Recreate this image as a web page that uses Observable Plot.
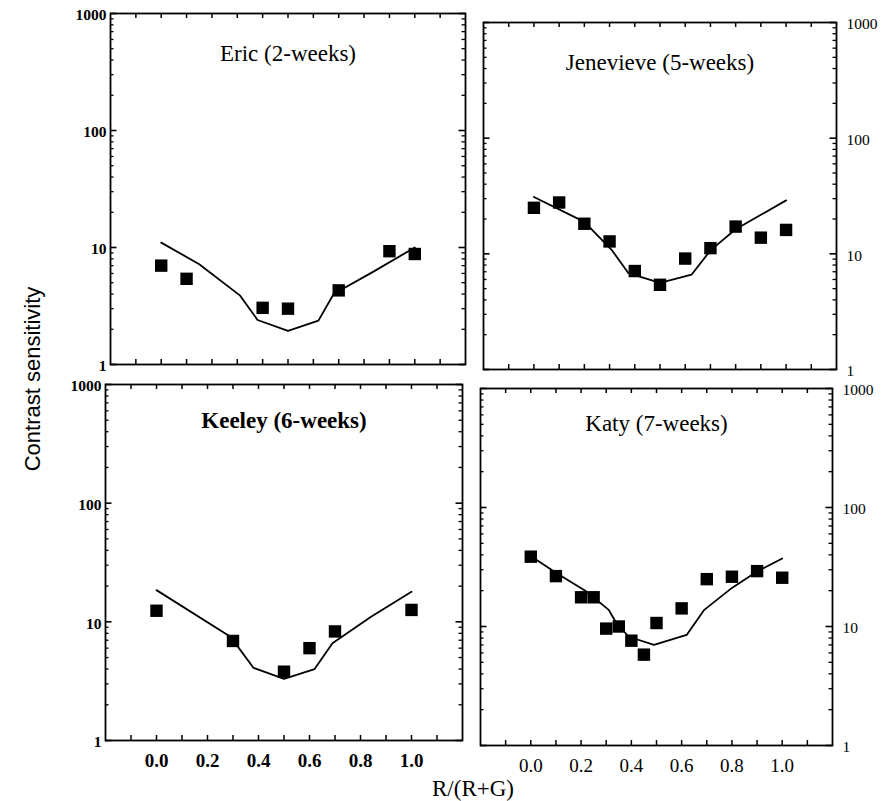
<!DOCTYPE html>
<html><head><meta charset="utf-8">
<script src="https://cdn.jsdelivr.net/npm/d3@7"></script>
<script src="https://cdn.jsdelivr.net/npm/@observablehq/plot@0.6"></script>
<style>
body{margin:0;background:#fff;}
#chart{position:relative;width:893px;height:801px;overflow:hidden;background:#fff;}
.panel{position:absolute;}
.ytitle{position:absolute;left:33px;top:379px;transform:translate(-50%,-50%) rotate(-90deg);font-family:'Liberation Sans',Arial,sans-serif;font-size:22px;white-space:nowrap;color:#000;}
.xtitle{position:absolute;left:473px;top:789px;transform:translate(-50%,-50%);font-family:'Liberation Serif','Times New Roman',serif;font-size:23px;white-space:nowrap;color:#000;}
</style></head><body>
<div id="chart">
  <div class="ytitle">Contrast sensitivity</div>
  <div class="xtitle">R/(R+G)</div>
</div>
<script>
// ---- Data ----
const panelTitles = ["Eric (2-weeks)", "Jenevieve (5-weeks)", "Keeley (6-weeks)", "Katy (7-weeks)"];

// Eric (2-weeks)
const ericX = [0.0, 0.1, 0.4, 0.5, 0.7, 0.9, 1.0];
const ericY = [7.0, 5.4, 3.05, 3.0, 4.3, 9.3, 8.8];
const ericFitX = [0.0, 0.15, 0.31, 0.38, 0.5, 0.62, 0.68, 0.83, 1.0];
const ericFitY = [11.0, 7.2, 3.9, 2.4, 1.94, 2.37, 4.0, 6.1, 10.0];

// Jenevieve (5-weeks)
const jenX = [0.0, 0.1, 0.2, 0.3, 0.4, 0.5, 0.6, 0.7, 0.8, 0.9, 1.0];
const jenY = [25, 27.8, 18.2, 12.8, 7.1, 5.4, 9.1, 11.2, 17.2, 13.8, 16.1];
const jenFitX = [0.0, 0.2, 0.31, 0.375, 0.5, 0.625, 0.7, 0.8, 1.0];
const jenFitY = [31, 18.9, 10.7, 6.8, 5.6, 6.6, 10.7, 16.3, 29];

// Keeley (6-weeks)
const keeX = [0.0, 0.3, 0.5, 0.6, 0.7, 1.0];
const keeY = [12.4, 6.9, 3.8, 6.0, 8.3, 12.6];
const keeFitX = [0.0, 0.29, 0.38, 0.5, 0.62, 0.69, 0.84, 1.0];
const keeFitY = [18.5, 7.5, 4.1, 3.3, 4.0, 6.6, 11.0, 17.9];

// Katy (7-weeks)
const katX = [0.0, 0.1, 0.2, 0.25, 0.3, 0.35, 0.4, 0.45, 0.5, 0.6, 0.7, 0.8, 0.9, 1.0];
const katY = [38.6, 26.5, 17.6, 17.6, 9.6, 10.0, 7.6, 5.8, 10.7, 14.2, 25, 26.2, 29.2, 25.7];
const katFitX = [0.01, 0.1, 0.22, 0.31, 0.34, 0.39, 0.49, 0.62, 0.69, 0.8, 0.9, 1.0];
const katFitY = [37.9, 28.3, 19.8, 13.8, 10.7, 8.2, 7.0, 8.5, 13.8, 21.1, 29, 37.3];

// Axis domains, tick values / labels
const xDomain = [-0.2, 1.2];
const yDomain = [1, 1000];
const yTickValues = [1, 10, 100, 1000];
const yTickLabels = ["1", "10", "100", "1000"];
const xTickValues = [0.0, 0.2, 0.4, 0.6, 0.8, 1.0];
const xTickLabels = ["0.0", "0.2", "0.4", "0.6", "0.8", "1.0"];
const xMinorTicks = d3.range(-1, 12).map(i => i / 10);
const yMinorTicks = [1, 10, 100].flatMap(d => d3.range(2, 10).map(k => k * d));

const zip = (xs, ys) => xs.map((x, i) => ({x, y: ys[i]}));

function panel({pts, fit, title, side, showX, frame, bold, titleDy, letterSpacing}) {
  const mL = side === "left" ? 60 : 8;
  const mR = side === "right" ? 60 : 8;
  const mT = 14;
  const mB = showX ? 40 : 14;
  const W = frame.r - frame.l, H = frame.b - frame.t;
  const fwT = bold ? "bold" : "normal";
  const fwA = side === "left" ? "bold" : "normal";
  const yLab = d => yTickLabels[yTickValues.indexOf(d)];
  const xLab = d => xTickLabels[xTickValues.indexOf(d)];
  // inward frame ticks: pixel length converted to scale units
  const xSpan = xDomain[1] - xDomain[0];
  const yDecades = Math.log10(yDomain[1] / yDomain[0]);
  const inwardY = (vals, len, sw) => {
    const dxu = len * xSpan / W;
    return [
      Plot.ruleY(vals, {y: d => d, x1: xDomain[0], x2: xDomain[0] + dxu, stroke: "#000", strokeWidth: sw}),
      Plot.ruleY(vals, {y: d => d, x1: xDomain[1] - dxu, x2: xDomain[1], stroke: "#000", strokeWidth: sw})
    ];
  };
  const inwardX = (vals, len, sw) => {
    const f = Math.pow(10, len * yDecades / H);
    return [
      Plot.ruleX(vals, {x: d => d, y1: yDomain[0], y2: yDomain[0] * f, stroke: "#000", strokeWidth: sw}),
      Plot.ruleX(vals, {x: d => d, y1: yDomain[1] / f, y2: yDomain[1], stroke: "#000", strokeWidth: sw})
    ];
  };
  const p = Plot.plot({
    width: W + mL + mR, height: H + mT + mB,
    marginLeft: mL, marginRight: mR, marginTop: mT, marginBottom: mB,
    style: {fontFamily: "'Liberation Serif','Times New Roman',serif", background: "transparent", color: "#000", overflow: "visible"},
    x: {domain: xDomain, label: null, axis: null},
    y: {type: "log", domain: yDomain, label: null, axis: null},
    marks: [
      ...inwardY(yMinorTicks, 3.5, 1.3),
      ...inwardY(yTickValues, 6.5, 1.6),
      ...inwardX(xMinorTicks, 5, 1.5),
      Plot.axisY(yTickValues, {anchor: side, tickSize: 0, tickPadding: side === "left" ? 4 : 10,
        tickFormat: yLab, fontSize: 15.5, fontWeight: fwA, dy: 2, label: null}),
      showX ? Plot.axisX(xTickValues, {anchor: "bottom", tickSize: 0, tickPadding: 13,
        tickFormat: xLab, fontSize: 19, fontWeight: fwA, label: null,
        style: side === "right" ? "letter-spacing:1px" : undefined}) : null,
      Plot.frame({stroke: "#000", strokeWidth: 1.8}),
      Plot.line(fit, {x: "x", y: "y", stroke: "#000", strokeWidth: 1.8}),
      Plot.dot(pts, {x: "x", y: "y", symbol: "square", fill: "#000", stroke: "none", r: 7}),
      Plot.text([title], {frameAnchor: "top", lineAnchor: "middle", dy: titleDy, fontSize: 23,
        fontWeight: fwT, fill: "#000", style: letterSpacing ? `letter-spacing:${letterSpacing}px` : undefined})
    ]
  });
  p.classList.add("panel");
  p.style.left = (frame.l - mL) + "px";
  p.style.top = (frame.t - mT) + "px";
  document.getElementById("chart").appendChild(p);
}

panel({pts: zip(ericX, ericY), fit: zip(ericFitX, ericFitY), title: panelTitles[0], side: "left", showX: false,
  frame: {l: 110, r: 465, t: 13, b: 364}, bold: false, titleDy: 40});
panel({pts: zip(jenX, jenY), fit: zip(jenFitX, jenFitY), title: panelTitles[1], side: "right", showX: false,
  frame: {l: 483, r: 836, t: 22, b: 369}, bold: false, titleDy: 40, letterSpacing: 1});
panel({pts: zip(keeX, keeY), fit: zip(keeFitX, keeFitY), title: panelTitles[2], side: "left", showX: true,
  frame: {l: 105, r: 462, t: 384, b: 740}, bold: true, titleDy: 36});
panel({pts: zip(katX, katY), fit: zip(katFitX, katFitY), title: panelTitles[3], side: "right", showX: true,
  frame: {l: 480, r: 832, t: 388, b: 745}, bold: false, titleDy: 35});
</script>
</body></html>
